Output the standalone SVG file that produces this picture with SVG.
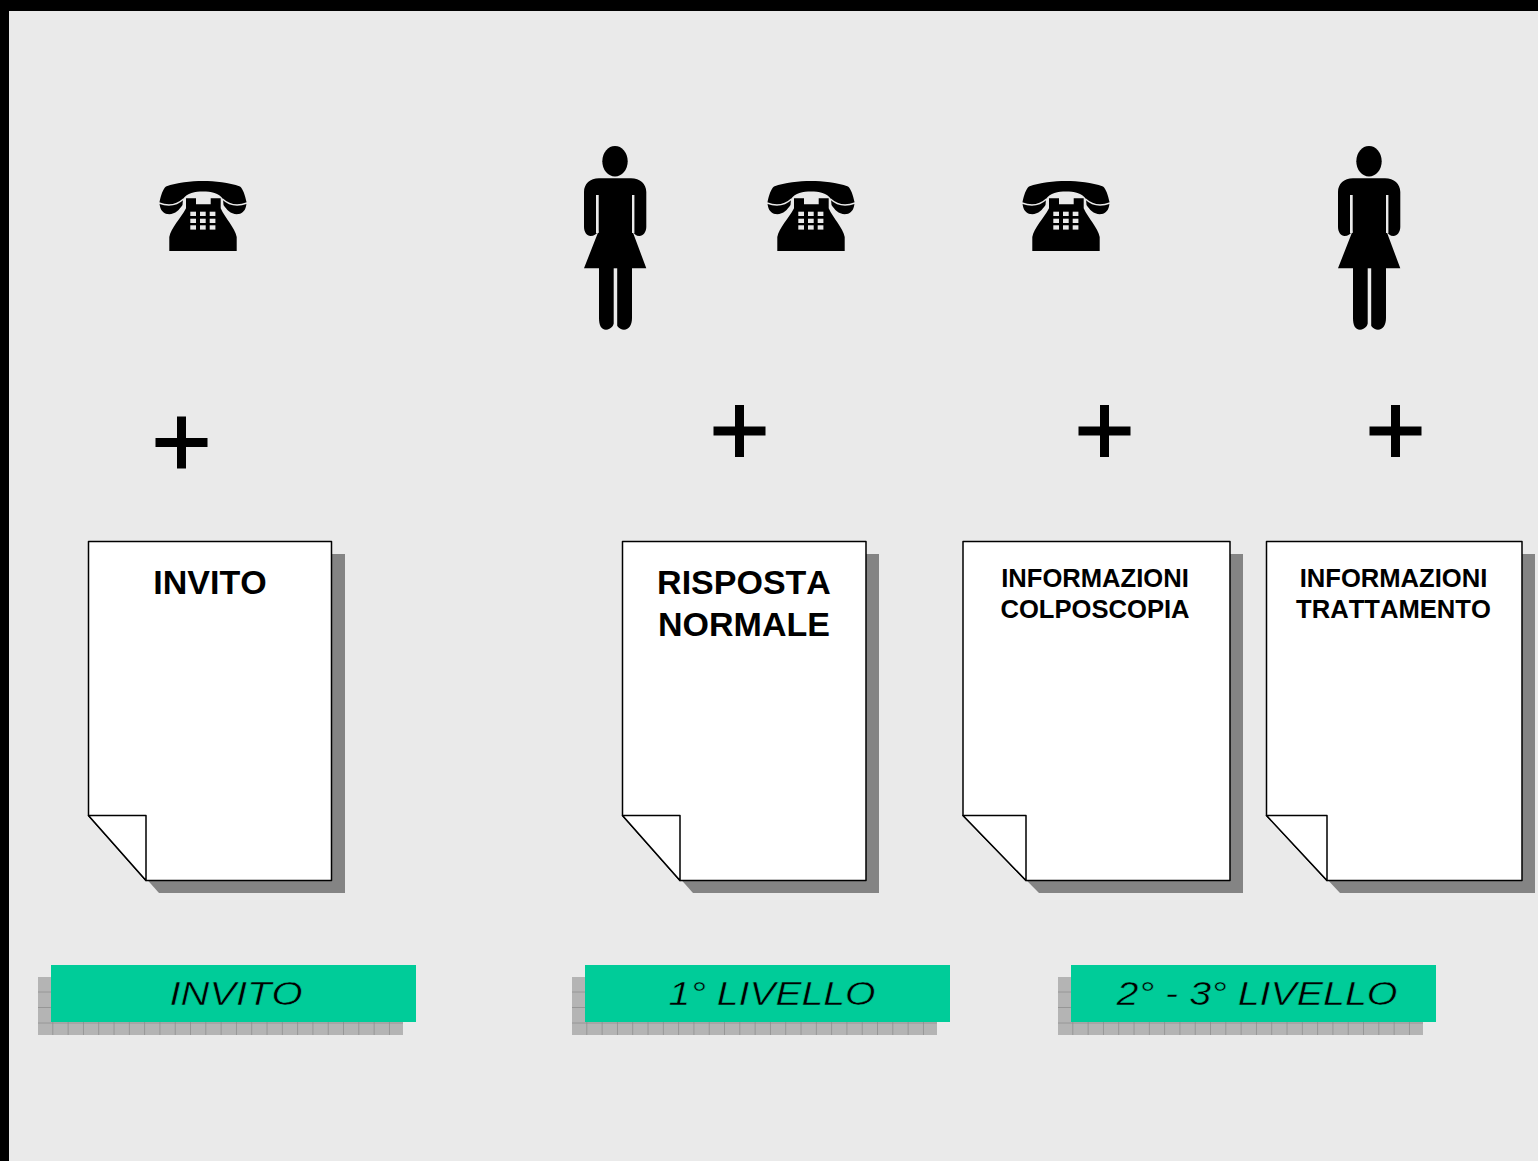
<svg xmlns="http://www.w3.org/2000/svg" width="1538" height="1161" viewBox="0 0 1538 1161">
<style>
.sh{fill:#848484}
.pg{fill:#fff;stroke:#000;stroke-width:1.5;stroke-linejoin:round}
.t1{font:bold 34px "Liberation Sans",Arial,sans-serif;text-anchor:middle;fill:#000;font-kerning:none}
.t2{font:bold 25.6px "Liberation Sans",Arial,sans-serif;text-anchor:middle;fill:#000;font-kerning:none}
.t3{font:italic 34px "Liberation Sans",Arial,sans-serif;text-anchor:middle;fill:#000;font-kerning:none;stroke:#00cc99;stroke-width:0.5px}
.band{fill:#00cc99}
.plus{fill:#000}
</style>
<defs>
<pattern id="grid" x="38" y="977" width="15.3" height="15.5" patternUnits="userSpaceOnUse">
<rect width="15.3" height="15.5" fill="#b4b4b4"/>
<rect x="14.6" width="0.9" height="15.5" fill="#8a8a8a"/>
<rect y="14.8" width="15.3" height="0.9" fill="#8a8a8a"/>
</pattern>
<pattern id="grid2" x="572" y="977" width="15.3" height="15.5" patternUnits="userSpaceOnUse">
<rect width="15.3" height="15.5" fill="#b4b4b4"/>
<rect x="14.6" width="0.9" height="15.5" fill="#8a8a8a"/>
<rect y="14.8" width="15.3" height="0.9" fill="#8a8a8a"/>
</pattern>
<pattern id="grid3" x="1058" y="977" width="15.3" height="15.5" patternUnits="userSpaceOnUse">
<rect width="15.3" height="15.5" fill="#b4b4b4"/>
<rect x="14.6" width="0.9" height="15.5" fill="#8a8a8a"/>
<rect y="14.8" width="15.3" height="0.9" fill="#8a8a8a"/>
</pattern>
<symbol id="phone" overflow="visible">
<path fill="#000" d="M0.5,22 C2,15 4,9 7,6.500 C18,2.500 32,1 44,1 C56,1 70,2.500 81,6.500 C84,9 86,15 87.500,22 C87.500,28 85,33 80,34 C72,35 68,30 64.500,25 L64,19 C60,13 52,11.500 44,11.500 C36,11.500 28,13 24,19 L23.500,25 C20,30 16,35 8,34 C3,33 0.500,28 0.500,22 Z"/>
<path fill="none" stroke="#eaeaea" stroke-width="1.400" d="M0,23 C8,26 17,26 24.500,19 M88,23 C80,26 71,26 63.500,19"/>
<path fill="#000" d="M27,18.300 H37 V24.300 H51.700 V18.300 H61.700 V28.300 C66,38 76,48 77.700,57 V71 H10.300 V57 C12,48 22,38 27,28.300 Z"/>
<g fill="#eaeaea"><rect x="31.300" y="31.700" width="5.700" height="4.300"/><rect x="41" y="31.700" width="5.700" height="4.300"/><rect x="50.700" y="31.700" width="5.700" height="4.300"/><rect x="31.300" y="38.700" width="5.700" height="4.300"/><rect x="41" y="38.700" width="5.700" height="4.300"/><rect x="50.700" y="38.700" width="5.700" height="4.300"/><rect x="31.300" y="45.300" width="5.700" height="4.300"/><rect x="41" y="45.300" width="5.700" height="4.300"/><rect x="50.700" y="45.300" width="5.700" height="4.300"/></g>
</symbol>
<symbol id="woman" overflow="visible">
<ellipse cx="31" cy="15.300" rx="12.700" ry="15.300"/>
<path d="M15,32.300 L47,32.300 C56,32.300 62.300,38 62.300,46 L62.300,81 C62.300,86 59,90 55.500,90 C52,90 50,88 48,84 L62.300,122.300 L48,122.300 L48,172 C48,179 45,183.700 40,183.700 C35,183.700 31,179 31,172 C31,179 27,183.700 22,183.700 C17,183.700 15,179 15,172 L15,122.300 L0,122.300 L15,84 C13,88 10,90 6.500,90 C3,90 0,86 0,81 L0,46 C0,38 6,32.300 15,32.300 Z"/>
<rect x="12" y="49" width="2.700" height="38" fill="#eaeaea"/>
<rect x="48" y="49" width="2.400" height="38" fill="#eaeaea"/>
<rect x="29.700" y="122.300" width="3.500" height="62" fill="#eaeaea"/>
</symbol>
<path id="plusp" d="M0,21.500 H21.500 V0 H30.500 V21.500 H52 V30.500 H30.500 V52 H21.500 V30.500 H0 Z"/>
</defs>
<rect width="1538" height="1161" fill="#eaeaea"/>
<rect width="1538" height="11" fill="#000"/>
<rect width="9" height="1161" fill="#000"/>
<g id="connectors"/>
<g id="phone-1"><use href="#phone" x="159" y="180"/></g>
<g id="woman-1"><use href="#woman" x="584" y="146"/></g>
<g id="phone-2"><use href="#phone" x="767" y="180"/></g>
<g id="phone-3"><use href="#phone" x="1022" y="180"/></g>
<g id="woman-2"><use href="#woman" x="1338" y="146"/></g>
<g id="plus-1" class="plus"><use href="#plusp" x="155.500" y="416.500"/></g>
<g id="plus-2" class="plus"><use href="#plusp" x="713.500" y="405"/></g>
<g id="plus-3" class="plus"><use href="#plusp" x="1078.500" y="405"/></g>
<g id="plus-4" class="plus"><use href="#plusp" x="1369.500" y="405"/></g>
<g id="doc-invito">
<path class="sh" d="M101,554 H345 V893 H159 L101,828 Z"/>
<path class="pg" d="M88.500,541.500 H331.500 V880.500 H146 L88.500,815.500 Z"/>
<path class="pg" d="M88.500,815.500 H146 V880.500 Z"/>
<text class="t1" x="210" y="594">INVITO</text>
</g>
<g id="doc-risposta">
<path class="sh" d="M635,554 H879 V893 H693 L635,828 Z"/>
<path class="pg" d="M622.500,541.500 H866 V880.500 H680 L622.500,815.500 Z"/>
<path class="pg" d="M622.500,815.500 H680 V880.500 Z"/>
<text class="t1" x="744" y="594">RISPOSTA</text>
<text class="t1" x="744" y="636">NORMALE</text>
</g>
<g id="doc-colposcopia">
<path class="sh" d="M975,554 H1243 V893 H1039 L975,828 Z"/>
<path class="pg" d="M963,541.500 H1230 V880.500 H1026 L963,815.500 Z"/>
<path class="pg" d="M963,815.500 H1026 V880.500 Z"/>
<text class="t2" x="1095" y="587">INFORMAZIONI</text>
<text class="t2" x="1095" y="618">COLPOSCOPIA</text>
</g>
<g id="doc-trattamento">
<path class="sh" d="M1279,554 H1535 V893 H1340 L1279,828 Z"/>
<path class="pg" d="M1266.500,541.500 H1522 V880.500 H1327 L1266.500,815.500 Z"/>
<path class="pg" d="M1266.500,815.500 H1327 V880.500 Z"/>
<text class="t2" x="1393.500" y="587">INFORMAZIONI</text>
<text class="t2" x="1393.500" y="618">TRATTAMENTO</text>
</g>
<g id="band-invito">
<rect x="38" y="977" width="365" height="58" fill="url(#grid)"/>
<rect class="band" x="51" y="965" width="365" height="57"/>
<text class="t3" x="236" y="1005" textLength="133" lengthAdjust="spacingAndGlyphs">INVITO</text>
</g>
<g id="band-1-livello">
<rect x="572" y="977" width="365" height="58" fill="url(#grid2)"/>
<rect class="band" x="585" y="965" width="365" height="57"/>
<text class="t3" x="772" y="1005" textLength="207" lengthAdjust="spacingAndGlyphs">1° LIVELLO</text>
</g>
<g id="band-2-3-livello">
<rect x="1058" y="977" width="365" height="58" fill="url(#grid3)"/>
<rect class="band" x="1071" y="965" width="365" height="57"/>
<text class="t3" x="1257" y="1005" textLength="281" lengthAdjust="spacingAndGlyphs">2° - 3° LIVELLO</text>
</g>
</svg>
